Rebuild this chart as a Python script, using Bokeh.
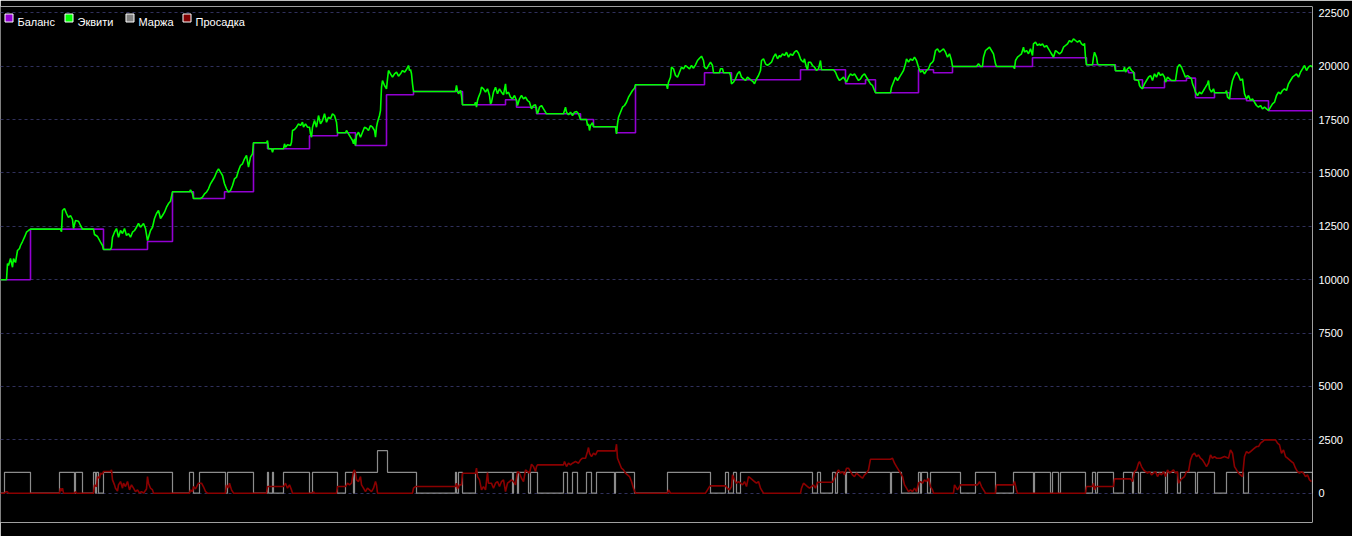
from bokeh.plotting import figure
from bokeh.models import Range1d, FixedTicker, Span, Label, BoxAnnotation
from bokeh.embed import file_html
from bokeh.resources import INLINE

# ---------------- data (x = test sample index, values in account currency) ----------------
legend_labels = ["Баланс", "Эквити", "Маржа", "Просадка"]
y_ticks = [0, 2500, 5000, 7500, 10000, 12500, 15000, 17500, 20000, 22500]

balance_points = [(0, 10000), (30, 12370), (103, 11415), (147, 11790), (172, 14118), (193, 13804),
                  (224, 14118), (253, 16413), (267, 16132), (309, 16741), (337, 16881), (355, 16287),
                  (386, 18661), (413, 18816), (462, 18193), (505, 18427), (516, 18080), (536, 17771),
                  (580, 17504), (593, 17162), (616, 16881), (635, 19129), (704, 19692), (731, 19364),
                  (800, 19832), (845, 19176), (865, 19364), (875, 18755), (918, 19832), (933, 19692),
                  (952, 19987), (1032, 20394), (1086, 20066), (1115, 19785), (1128, 19692), (1134, 19364),
                  (1142, 18989), (1164, 19317), (1186, 19440), (1195, 18520), (1214, 18755), (1229, 18474),
                  (1246, 18380), (1268, 17912), (1312, 17912)]

equity_points = [
    (0, 10000), (6, 10000), (7, 10760), (8, 10665), (10, 10993), (12, 10586), (13, 10993), (15, 10806),
    (17, 11368), (19, 11462), (20, 11602), (22, 11789), (24, 11991), (26, 12225), (28, 12305), (30, 12370),
    (60, 12370), (61, 12250), (62, 13242), (64, 13335), (66, 13101), (68, 12914), (70, 13007), (72, 12820),
    (73, 12398), (75, 12773), (78, 12740), (80, 12539), (82, 12370), (93, 12370),
    (94, 12117), (97, 12024), (100, 11757), (102, 11602), (103, 11415), (110, 11415), (111, 11523),
    (112, 11991), (114, 12225), (116, 12398), (118, 11991), (120, 12305), (122, 12164), (124, 12398),
    (126, 12071), (128, 12164), (130, 11991), (132, 12225), (134, 12305), (136, 12459), (138, 12633),
    (140, 12459), (143, 12633), (145, 12398), (147, 11836), (148, 11991), (150, 12305), (152, 12459),
    (154, 12867), (156, 13101), (158, 13242), (160, 12867), (162, 13007), (164, 13162), (166, 13396),
    (168, 13569), (170, 13677), (172, 14118),
    (189, 14118), (190, 14211), (192, 14038), (193, 13804), (200, 13804), (202, 13865), (204, 14024),
    (206, 14099), (208, 14258), (210, 14492), (212, 14647), (214, 14801), (216, 15036), (218, 15195),
    (220, 15036), (222, 14881), (224, 14492), (226, 14258), (228, 14099), (230, 14178), (232, 14413),
    (234, 14726), (236, 14801), (238, 15115), (240, 15349), (242, 15429), (244, 15663), (246, 15818),
    (248, 15270), (250, 15738), (252, 15897), (253, 16413),
    (266, 16413), (267, 16520), (268, 16132), (271, 16132), (272, 15972), (273, 16132), (283, 16132),
    (284, 16366), (285, 16207), (287, 16319), (290, 16286), (291, 16441), (292, 16989), (294, 17036),
    (296, 17143), (298, 17302), (300, 17223), (302, 17378), (303, 17143), (305, 17302), (307, 17143),
    (309, 17143), (310, 16834), (311, 16675), (312, 17143), (314, 17457), (316, 17143), (318, 17691),
    (320, 17302), (322, 17457), (324, 17771), (326, 17378), (328, 17612), (330, 17537), (332, 17771),
    (334, 17691), (336, 17378), (337, 16881),
    (345, 16881), (346, 16989), (347, 16909), (349, 16755), (350, 16675), (352, 16520), (353, 16366),
    (354, 16600), (355, 16286), (356, 16755), (358, 16909), (360, 16675), (362, 16909), (364, 17143),
    (366, 17097), (368, 16989), (370, 17223), (372, 17143), (374, 16989), (375, 16675), (376, 17143),
    (377, 17378), (378, 17537), (379, 17691), (380, 17926), (381, 19017), (382, 19331), (384, 19097),
    (386, 18942), (387, 19410), (388, 19799), (390, 19645), (392, 19485), (394, 19645), (396, 19720),
    (398, 19532), (400, 19645), (402, 19799), (404, 19720), (406, 19846), (408, 20033), (409, 19799),
    (410, 19846), (411, 19645), (412, 19176), (413, 18816), (455, 18816), (456, 19097), (457, 18816),
    (458, 18708), (460, 18862), (461, 18628), (462, 18193),
    (474, 18193), (475, 18314), (476, 18080), (477, 18394), (478, 18549), (480, 18783), (481, 19017),
    (483, 18942), (485, 18783), (487, 18942), (489, 18628), (490, 18239), (491, 18314), (493, 18783),
    (495, 19017), (497, 18708), (499, 18942), (501, 18783), (503, 18661), (505, 19176), (506, 18708),
    (508, 18783), (510, 18549), (512, 18474), (514, 18628), (516, 18394), (517, 18160), (519, 18474),
    (521, 18628), (523, 18474), (525, 18549), (527, 18394), (529, 18314), (531, 18005), (533, 18160),
    (535, 18193), (536, 17926), (537, 17771), (539, 18080), (541, 18160), (543, 18005), (545, 17846),
    (546, 17771), (563, 17771), (564, 17926), (565, 18080), (566, 17846), (568, 17724), (570, 17846),
    (572, 17691), (574, 17846), (576, 17879), (578, 17771), (580, 17504), (586, 17504), (587, 17223),
    (588, 17302), (589, 16989), (590, 17223), (592, 17349), (593, 17162), (615, 17162), (616, 16834),
    (617, 17302), (618, 17612), (620, 17846), (622, 18080), (624, 18160), (626, 18314), (628, 18549),
    (630, 18708), (632, 18862), (634, 18970), (635, 19129),
    (666, 19129), (667, 18942), (668, 19251), (670, 19485), (671, 19954), (673, 19879), (675, 19565),
    (677, 19485), (679, 19720), (681, 19954), (683, 19879), (685, 20033), (687, 19954), (689, 19879),
    (691, 20033), (693, 19907), (695, 20066), (697, 20268), (699, 20375), (701, 20469), (703, 20268),
    (704, 19954), (706, 19879), (708, 20033), (710, 20188), (712, 20033), (713, 19691),
    (719, 19691), (720, 19879), (722, 19879), (723, 19691), (729, 19691), (730, 19565), (731, 19176),
    (733, 19251), (735, 19410), (737, 19645), (739, 19752), (741, 19485), (743, 19410), (745, 19331),
    (747, 19485), (749, 19410), (751, 19331), (753, 19251), (754, 19176), (756, 19410), (758, 19565),
    (760, 19799), (761, 20268), (763, 20347), (765, 20113), (767, 20033), (769, 20113), (771, 20188),
    (773, 20422), (775, 20581), (777, 20347), (779, 20502), (780, 20422), (782, 20581), (784, 20502),
    (786, 20656), (788, 20422), (790, 20581), (792, 20502), (794, 20656), (796, 20736), (798, 20610),
    (800, 20347), (801, 20268), (803, 20188), (804, 20347), (805, 20113), (806, 19954), (807, 19832),
    (808, 20188), (810, 20188), (812, 20033), (814, 19954), (816, 19799), (818, 19879), (820, 20268),
    (821, 19832), (833, 19832), (835, 19720), (837, 19485), (839, 19331), (841, 19410), (843, 19485),
    (845, 19331), (846, 19251), (848, 19485), (850, 19645), (852, 19565), (854, 19645), (856, 19485),
    (858, 19331), (860, 19410), (862, 19565), (864, 19645), (866, 19485), (868, 19331), (870, 19176),
    (872, 19097), (874, 18862), (875, 18755),
    (890, 18755), (891, 19017), (893, 19251), (895, 19485), (897, 19331), (899, 19485), (901, 19645),
    (903, 19799), (905, 20113), (906, 20347), (908, 20188), (910, 20347), (912, 20268), (914, 20422),
    (916, 20268), (918, 19954), (919, 19832), (920, 19720), (922, 19799), (924, 19645), (926, 19799),
    (928, 19879), (930, 20113), (932, 20188), (933, 20268), (935, 20736), (937, 20816), (939, 20656),
    (941, 20736), (943, 20816), (945, 20656), (947, 20422), (949, 20581), (951, 20268), (952, 19987),
    (976, 19987), (978, 20113), (980, 19987), (982, 19987), (983, 20422), (985, 20736), (987, 20816),
    (989, 20891), (991, 20736), (993, 20581), (995, 20113), (996, 19987), (1013, 19987), (1014, 19879),
    (1015, 20268), (1017, 20422), (1019, 20502), (1021, 20581), (1023, 20891), (1024, 20656),
    (1026, 20736), (1028, 20581), (1030, 20816), (1032, 20502), (1033, 21050), (1035, 21125),
    (1037, 20970), (1039, 21050), (1040, 20970), (1042, 21050), (1044, 20891), (1046, 20970),
    (1048, 20816), (1050, 20656), (1052, 20502), (1053, 20422), (1055, 20736), (1057, 20656),
    (1059, 20581), (1061, 20656), (1063, 20891), (1065, 20970), (1067, 21050), (1069, 21204),
    (1071, 21125), (1073, 21284), (1075, 21204), (1077, 21125), (1079, 21204), (1081, 21050),
    (1083, 20970), (1084, 21078), (1085, 20422), (1086, 20066),
    (1092, 20066), (1093, 20422), (1094, 20656), (1096, 20422), (1097, 20113), (1098, 20066),
    (1114, 20066), (1115, 19785), (1123, 19785), (1124, 19954), (1125, 19720), (1127, 19879),
    (1129, 19954), (1131, 19799), (1133, 19720), (1134, 19364), (1138, 19331), (1139, 19097),
    (1140, 19017), (1142, 18942), (1144, 19176), (1146, 19331), (1148, 19485), (1150, 19565),
    (1152, 19331), (1154, 19645), (1156, 19485), (1158, 19720), (1160, 19565), (1162, 19645),
    (1164, 19485), (1165, 19251), (1167, 19485), (1169, 19410), (1171, 19331), (1175, 19331),
    (1177, 19954), (1179, 20080), (1181, 19954), (1183, 19720), (1185, 19485), (1187, 19565),
    (1189, 19485), (1191, 19410), (1192, 19176), (1194, 18942), (1195, 18783), (1197, 18628),
    (1199, 18783), (1201, 18708), (1203, 18862), (1205, 19017), (1207, 19176), (1208, 19331),
    (1209, 18942), (1211, 18783), (1213, 18942), (1214, 18755), (1225, 18755), (1226, 18862),
    (1227, 18549), (1229, 18474), (1230, 18862), (1232, 19331), (1234, 19565), (1236, 19720),
    (1238, 19565), (1240, 19331), (1242, 19410), (1244, 18708), (1246, 18474), (1248, 18628),
    (1250, 18394), (1252, 18474), (1254, 18314), (1256, 18160), (1258, 18080), (1260, 18160),
    (1262, 18005), (1264, 18080), (1266, 18005), (1268, 17926), (1270, 18080), (1272, 18239),
    (1274, 18314), (1276, 18628), (1278, 18783), (1280, 18708), (1282, 18862), (1284, 18942),
    (1286, 18862), (1288, 19176), (1290, 19331), (1292, 19485), (1294, 19565), (1296, 19645),
    (1298, 19485), (1300, 19720), (1302, 19879), (1304, 20033), (1306, 19799), (1308, 19954),
    (1310, 20033), (1312, 19954)]

# margin: (start, end, level)
margin_intervals = [
    (4, 30, 980), (59, 74, 980), (75, 82, 980), (93, 95, 980), (96, 98, 980), (103, 172, 980),
    (189, 193, 980), (199, 225, 980), (227, 253, 980), (267, 268, 980), (272, 273, 980),
    (283, 309, 980), (312, 337, 980), (345, 353, 980), (354, 377, 980), (377, 387, 1990),
    (387, 416, 980), (455, 456, 980), (458, 462, 980), (475, 512, 980), (513, 517, 980),
    (518, 528, 980), (530, 537, 980), (563, 567, 980), (572, 577, 980), (586, 591, 980),
    (596, 614, 980), (615, 634, 980), (667, 710, 980), (725, 728, 980), (733, 736, 980),
    (740, 812, 980), (817, 820, 980), (832, 835, 980), (837, 845, 980), (846, 890, 980),
    (891, 901, 980), (918, 920, 980), (921, 927, 980), (930, 960, 980), (975, 995, 980),
    (1013, 1033, 980), (1034, 1050, 980), (1052, 1058, 980), (1060, 1085, 980), (1092, 1095, 980),
    (1097, 1113, 980), (1123, 1132, 980), (1133, 1138, 980), (1140, 1165, 980), (1167, 1177, 980),
    (1180, 1195, 980), (1197, 1214, 980), (1226, 1243, 980), (1248, 1312, 980)]

drawdown_points = [
    (0, 0), (4, 0), (5, 62), (7, 62), (8, 0), (59, 0), (60, 234), (61, 100), (62, 234), (63, 0),
    (74, 0), (75, 78), (76, 0), (93, 0), (94, 390), (96, 312), (97, 780), (99, 700), (100, 937),
    (102, 900), (103, 1015), (110, 1015), (111, 1093), (112, 624), (114, 390), (115, 234), (117, 100),
    (118, 390), (120, 546), (122, 234), (123, 468), (125, 312), (127, 546), (129, 156), (131, 390),
    (133, 234), (135, 78), (137, 156), (139, 0), (141, 78), (143, 0), (146, 200), (147, 780),
    (148, 468), (150, 234), (152, 156), (153, 0), (189, 0), (190, 156), (192, 78), (193, 312),
    (195, 200), (198, 468), (201, 468), (203, 300), (205, 78), (207, 0), (225, 0), (226, 390),
    (228, 234), (229, 468), (231, 156), (233, 0), (266, 0), (267, 312), (283, 312), (285, 468),
    (287, 234), (289, 390), (291, 156), (292, 0), (312, 0), (313, 78), (314, 0), (336, 0), (337, 312),
    (345, 312), (347, 468), (349, 390), (351, 468), (353, 1015), (354, 1093), (355, 937), (356, 624),
    (358, 546), (360, 780), (361, 390), (363, 234), (365, 78), (367, 234), (369, 156), (371, 78),
    (373, 234), (375, 546), (376, 390), (377, 0), (412, 0), (413, 234), (415, 312), (455, 312),
    (456, 468), (457, 200), (459, 390), (461, 390), (462, 937), (475, 937), (476, 1171), (477, 780),
    (479, 624), (481, 156), (483, 312), (485, 156), (487, 968), (488, 468), (491, 468), (493, 234),
    (495, 468), (497, 546), (499, 312), (501, 546), (503, 624), (505, 78), (507, 468), (509, 546),
    (511, 624), (513, 546), (515, 390), (517, 1015), (519, 937), (521, 702), (523, 546), (525, 1093),
    (527, 1015), (529, 937), (531, 1358), (533, 1249), (535, 1015), (536, 1249), (537, 1327),
    (563, 1327), (564, 1483), (566, 1249), (568, 1405), (570, 1327), (572, 1405), (575, 1483),
    (578, 1405), (580, 1561), (582, 1639), (585, 1639), (587, 1951), (588, 2139), (589, 1873),
    (591, 1717), (593, 1873), (595, 1795), (597, 1982), (615, 1982), (616, 2295), (617, 1639),
    (619, 1405), (621, 1171), (623, 1093), (625, 937), (627, 859), (629, 780), (631, 546), (633, 234),
    (635, 0), (667, 0), (668, 156), (670, 0), (705, 0), (707, 156), (709, 312), (710, 343), (725, 343),
    (727, 234), (729, 156), (731, 312), (732, 859), (734, 624), (736, 468), (738, 546), (740, 468),
    (742, 390), (744, 546), (746, 312), (748, 780), (750, 702), (752, 624), (754, 546), (756, 468),
    (758, 546), (760, 234), (762, 78), (763, 0), (800, 0), (801, 234), (803, 468), (805, 390),
    (807, 312), (809, 234), (811, 312), (813, 390), (815, 234), (817, 515), (832, 515), (834, 702),
    (836, 937), (838, 1093), (840, 937), (842, 1015), (844, 859), (846, 1171), (848, 1171),
    (850, 1015), (852, 859), (854, 780), (856, 937), (858, 859), (860, 780), (862, 702), (864, 859),
    (866, 937), (868, 1093), (870, 1592), (890, 1592), (892, 1639), (894, 1405), (896, 1249),
    (898, 1093), (900, 937), (902, 780), (904, 390), (906, 234), (908, 78), (910, 156), (912, 78),
    (914, 234), (916, 78), (918, 468), (920, 546), (922, 468), (924, 624), (926, 546), (928, 702),
    (930, 312), (932, 156), (933, 0), (953, 0), (954, 390), (957, 156), (960, 390), (977, 390),
    (979, 546), (981, 312), (983, 156), (985, 0), (995, 0), (996, 390), (1013, 390), (1014, 546),
    (1016, 156), (1017, 0), (1085, 0), (1086, 312), (1092, 312), (1093, 468), (1094, 156),
    (1095, 312), (1113, 312), (1114, 671), (1130, 671), (1132, 546), (1134, 1015), (1136, 1093),
    (1138, 1405), (1139, 1483), (1141, 1249), (1143, 1093), (1145, 1015), (1147, 937), (1149, 1015),
    (1151, 859), (1153, 937), (1155, 1015), (1157, 780), (1159, 937), (1161, 859), (1163, 1015),
    (1165, 780), (1167, 1093), (1169, 937), (1171, 1015), (1173, 1093), (1175, 937), (1177, 1015),
    (1178, 468), (1180, 624), (1182, 702), (1184, 780), (1186, 1015), (1188, 1015), (1190, 1561),
    (1192, 1795), (1194, 1873), (1196, 1717), (1198, 1795), (1200, 1639), (1202, 1561), (1204, 1405),
    (1206, 1249), (1208, 1405), (1210, 1795), (1212, 1639), (1214, 1717), (1216, 1639), (1220, 1639),
    (1224, 1717), (1228, 1639), (1230, 2029), (1232, 1873), (1234, 1249), (1236, 1093), (1238, 937),
    (1240, 859), (1242, 780), (1244, 1717), (1246, 1951), (1248, 1873), (1250, 1951), (1252, 2029),
    (1254, 2107), (1256, 2185), (1258, 2185), (1260, 2342), (1262, 2420), (1264, 2498), (1275, 2498),
    (1277, 2342), (1279, 2263), (1281, 1873), (1283, 2029), (1285, 1717), (1287, 1639), (1289, 1561),
    (1291, 1483), (1293, 1405), (1295, 1171), (1297, 1015), (1299, 937), (1301, 1015), (1303, 937),
    (1305, 780), (1307, 859), (1309, 624), (1311, 546)]

# ---------------- styles ----------------
C_BAL, C_EQ, C_MARGIN, C_DD = "#9400D3", "#00FF00", "#8c8c8c", "#8b0000"
LEG_COLORS = ["#9400D3", "#00FF00", "#808080", "#800000"]
FONT = "Liberation Sans"

W, H = 1352, 536
FR_LEFT, FR_TOP, FR_W, FR_H = 0, 6, 1312, 516
X0, X1 = 0, 1312
Y0, Y1 = -1372, 22797

p = figure(width=W, height=H, output_backend="svg", toolbar_location=None,
           x_range=Range1d(X0, X1), y_range=Range1d(Y0, Y1),
           x_axis_location=None, y_axis_location="right",
           min_border_left=FR_LEFT, min_border_top=FR_TOP,
           min_border_right=W - FR_LEFT - FR_W, min_border_bottom=H - FR_TOP - FR_H,
           background_fill_color="#000000", border_fill_color="#000000",
           outline_line_color=None)

ax = p.yaxis[0]
ax.ticker = FixedTicker(ticks=y_ticks)
ax.axis_line_color = None
ax.major_tick_line_color = None
ax.minor_tick_line_color = None
ax.major_tick_out = 0
ax.major_tick_in = 0
ax.major_label_standoff = 6
ax.major_label_text_color = "#ffffff"
ax.major_label_text_font = FONT
ax.major_label_text_font_size = "11px"

for g in p.xgrid:
    g.visible = False
for g in p.ygrid:
    g.ticker = FixedTicker(ticks=y_ticks)
    g.grid_line_color = "#30305c"
    g.grid_line_dash = "3 3"
    g.grid_line_width = 1

# margin step path
mx, mv = [0], [0]
prev_end = None
for s, e, lv in margin_intervals:
    if prev_end is not None and s == prev_end:
        mx += [s, e]
        mv += [lv, lv]
    else:
        if prev_end is not None:
            mx.append(prev_end)
            mv.append(0)
        mx += [s, s, e]
        mv += [0, lv, lv]
    prev_end = e
mx.append(prev_end)
mv.append(0)

p.line(mx, mv, line_color=C_MARGIN, line_width=1.2)
dd_x, dd_v = zip(*drawdown_points)
p.line(list(dd_x), list(dd_v), line_color=C_DD, line_width=1.6)
bx, bv = zip(*balance_points)
p.step(list(bx), list(bv), mode="after", line_color=C_BAL, line_width=1.6)
ex, ev = zip(*equity_points)
p.line(list(ex), list(ev), line_color=C_EQ, line_width=1.6)

# frame border (top, right, bottom)
p.add_layout(Span(location=Y1, dimension="width", line_color="white", line_width=1))
p.add_layout(Span(location=Y0, dimension="width", line_color="white", line_width=1))
p.add_layout(Span(location=X1, dimension="height", line_color="white", line_width=1))

# legend (layout helpers: frame pixel -> data)
def px2x(px):
    return X0 + (px - FR_LEFT) * (X1 - X0) / FR_W

def py2y(py):
    return Y1 - (py - FR_TOP) * (Y1 - Y0) / FR_H

sq_left = [4, 64, 125, 182]
for lbl, col, sx in zip(legend_labels, LEG_COLORS, sq_left):
    p.add_layout(BoxAnnotation(left=px2x(sx + 0.5), right=px2x(sx + 8.5),
                               top=py2y(13.5), bottom=py2y(21.5),
                               fill_color=col, fill_alpha=1.0,
                               line_color="white", line_alpha=1.0, line_width=1))
    p.add_layout(Label(x=px2x(sx + 13), y=py2y(21.5), text=lbl, text_color="white",
                       text_font=FONT, text_font_size="11px", text_baseline="alphabetic"))

open("out.html", "w").write(file_html(p, INLINE))
